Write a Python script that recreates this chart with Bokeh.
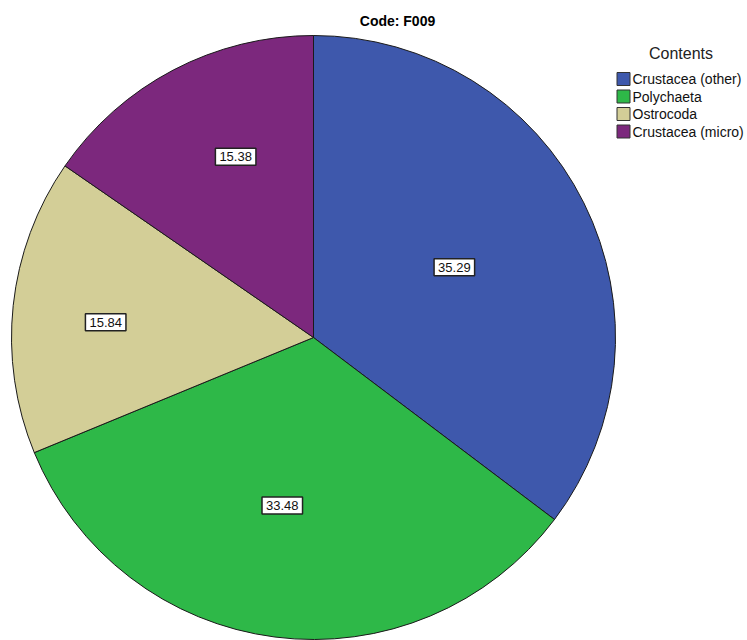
import math
from bokeh.plotting import figure
from bokeh.models import Range1d, ColumnDataSource
from bokeh.core.properties import value
from bokeh.embed import file_html
from bokeh.resources import INLINE

# ---- data ----
categories = ["Crustacea (other)", "Polychaeta", "Ostrocoda", "Crustacea (micro)"]
percents = [35.29, 33.48, 15.84, 15.38]
colors = ["#3E58AC", "#2EB848", "#D3CE97", "#7C287D"]
title_text = "Code: F009"
legend_title = "Contents"

W, H = 747, 640
FONT = "Liberation Sans"

p = figure(width=W, height=H, output_backend="svg", toolbar_location=None,
           x_range=Range1d(0, W), y_range=Range1d(0, H), min_border=0)
p.axis.visible = False
p.grid.visible = False
p.outline_line_color = None
p.background_fill_color = "white"
p.border_fill_color = "white"

def sy(img_y):
    return H - img_y

def sx(img_x):
    return img_x

cx, cy, R = sx(313), sy(337), 302
# label placement (radius fraction, angle offset in degrees) per slice
label_frac = [0.521, 0.566, 0.69, 0.652]
label_dang = [0.0, -3.2, 1.9, -4.4]

total = sum(percents)
starts, ends, lx, ly, labels = [], [], [], [], []
cum = 0.0
for i, v in enumerate(percents):
    a0 = math.pi / 2 - 2 * math.pi * cum / total
    cum += v
    a1 = math.pi / 2 - 2 * math.pi * cum / total
    starts.append(a0)
    ends.append(a1)
    mid = (a0 + a1) / 2 + math.radians(label_dang[i])
    lx.append(cx + label_frac[i] * R * math.cos(mid))
    ly.append(cy + label_frac[i] * R * math.sin(mid))
    labels.append(f"{v:.2f}")

src = ColumnDataSource(dict(start=starts, end=ends, color=colors, cat=categories))
p.wedge(x=cx, y=cy, radius=R, start_angle="start", end_angle="end",
        direction="clock", fill_color="color", line_color="#1a1a1a",
        line_width=1, source=src)

lsrc = ColumnDataSource(dict(x=lx, y=ly, t=labels))
p.text(x="x", y="y", text="t", source=lsrc, text_align="center",
       text_baseline="middle", text_font=value(FONT), text_font_size="13px",
       text_color="#111111", background_fill_color="white",
       border_line_color="#222222", border_line_width=1.5, padding=4)

# title
p.text(x=[sx(397)], y=[sy(20)], text=[title_text], text_align="center",
       text_baseline="middle", text_font=value(FONT), text_font_size="14px",
       text_font_style="bold", text_color="#000000")

# legend
p.text(x=[sx(680.5)], y=[sy(53)], text=[legend_title], text_align="center",
       text_baseline="middle", text_font=value(FONT), text_font_size="16px",
       text_color="#222222")
row_y = [sy(78.5 + 17.5 * i) for i in range(len(categories))]
p.rect(x=[sx(623)] * len(categories), y=row_y, width=13, height=13,
       fill_color=colors, line_color="#333333", line_width=1)
p.text(x=[sx(632)] * len(categories), y=row_y, text=categories,
       text_align="left", text_baseline="middle", text_font=value(FONT),
       text_font_size="14px", text_color="#111111")

open("out.html", "w").write(file_html(p, INLINE))
